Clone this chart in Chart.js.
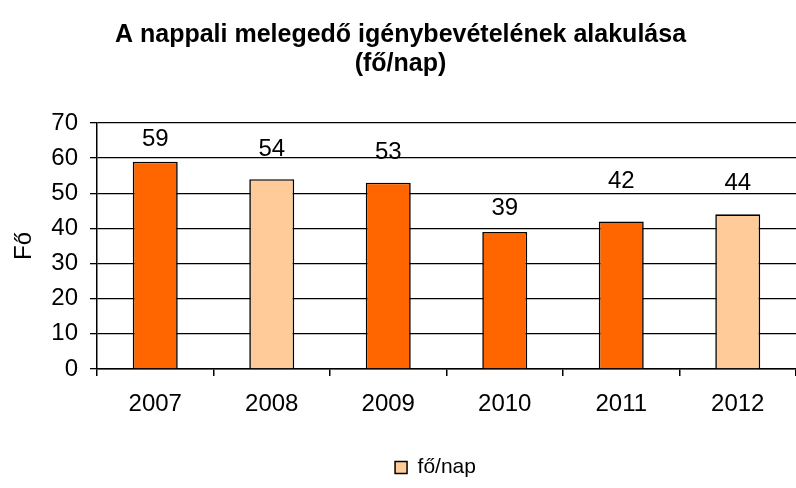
<!DOCTYPE html>
<html>
<head>
<meta charset="utf-8">
<script src="https://cdn.jsdelivr.net/npm/chart.js@4.4.1/dist/chart.umd.min.js"></script>
<style>
  html, body { margin: 0; padding: 0; background: #fff; }
  #wrap { width: 796px; height: 488px; }
</style>
</head>
<body>
<div id="wrap"><canvas id="melegedoChart" width="796" height="488"></canvas></div>
<script>
// Adatok
const years = ['2007', '2008', '2009', '2010', '2011', '2012'];
const foPerNap = [59, 54, 53, 39, 42, 44];
const yTicks = [0, 10, 20, 30, 40, 50, 60, 70];

const DARK = '#FF6600';
const LIGHT = '#FFCC99';
const FONT = "'Liberation Sans', Arial, sans-serif";

// a szamcimkek kezzel vannak elhelyezve az eredetin: eltolas az oszlop tetejetol (tengely-egysegben)
const labelLift = [6.4, 8.6, 8.7, 6.6, 11.3, 8.9];

const valueLabels = {
    id: 'valueLabels',
    afterDatasetsDraw(chart) {
        const ctx = chart.ctx;
        const meta = chart.getDatasetMeta(0);
        const y = chart.scales.y;
        ctx.save();
        ctx.font = '24px ' + FONT;
        ctx.fillStyle = '#000';
        ctx.textAlign = 'center';
        ctx.textBaseline = 'middle';
        meta.data.forEach((bar, i) => {
            ctx.fillText(String(foPerNap[i]), bar.x, y.getPixelForValue(foPerNap[i] + labelLift[i]));
        });
        ctx.restore();
    }
};

// a jelmagyarazat az eredetin kicsit jobbra all
const legendShift = {
    id: 'legendShift',
    afterLayout(chart) {
        const lg = chart.legend;
        lg.left += 35;
        lg.right += 35;
    }
};

const ctx1 = document.getElementById('melegedoChart');
new Chart(ctx1, {
    type: 'bar',
    data: {
        labels: years,
        datasets: [{
            label: 'fő/nap',
            data: foPerNap,
            backgroundColor: [DARK, LIGHT, DARK, DARK, DARK, LIGHT],
            borderColor: '#000',
            borderWidth: 1.6,
            categoryPercentage: 1,
            barPercentage: 0.386
        }]
    },
    options: {
        responsive: false,
        animation: false,
        layout: {
            padding: { left: 0, right: -5, top: 0, bottom: 0 }
        },
        plugins: {
            title: {
                display: true,
                text: ['A nappali melegedő igénybevételének alakulása', '(fő/nap)'],
                color: '#000',
                font: { size: 25, weight: 'bold', family: FONT, lineHeight: 1.16 },
                padding: { top: 21, bottom: 44 }
            },
            legend: {
                display: true,
                position: 'bottom',
                labels: {
                    color: '#000',
                    font: { size: 21, family: FONT },
                    boxWidth: 12,
                    boxHeight: 12,
                    padding: 10,
                    generateLabels() {
                        return [{
                            text: 'fő/nap',
                            fillStyle: LIGHT,
                            strokeStyle: '#000',
                            lineWidth: 1.5,
                            hidden: false,
                            datasetIndex: 0
                        }];
                    }
                }
            },
            tooltip: { enabled: false }
        },
        scales: {
            y: {
                min: 0,
                max: 70,
                afterBuildTicks(scale) {
                    scale.ticks = yTicks.map(v => ({ value: v }));
                },
                afterFit(scale) {
                    scale.width = 97;
                },
                title: {
                    display: true,
                    text: 'Fő',
                    color: '#000',
                    font: { size: 24, family: FONT },
                    padding: { top: 10, bottom: 0 }
                },
                ticks: {
                    color: '#000',
                    font: { size: 24, family: FONT },
                    padding: 12
                },
                grid: {
                    color: '#000',
                    lineWidth: 1.3,
                    tickLength: 7
                },
                border: { display: true, color: '#000', width: 1.5 }
            },
            x: {
                afterFit(scale) {
                    scale.height = 78;
                },
                ticks: {
                    color: '#000',
                    font: { size: 24, family: FONT },
                    padding: 14
                },
                grid: {
                    offset: true,
                    drawOnChartArea: false,
                    color: '#000',
                    lineWidth: 1.5,
                    tickLength: 7
                },
                border: { display: true, color: '#000', width: 1.5 }
            }
        }
    },
    plugins: [valueLabels, legendShift]
});
</script>
</body>
</html>
